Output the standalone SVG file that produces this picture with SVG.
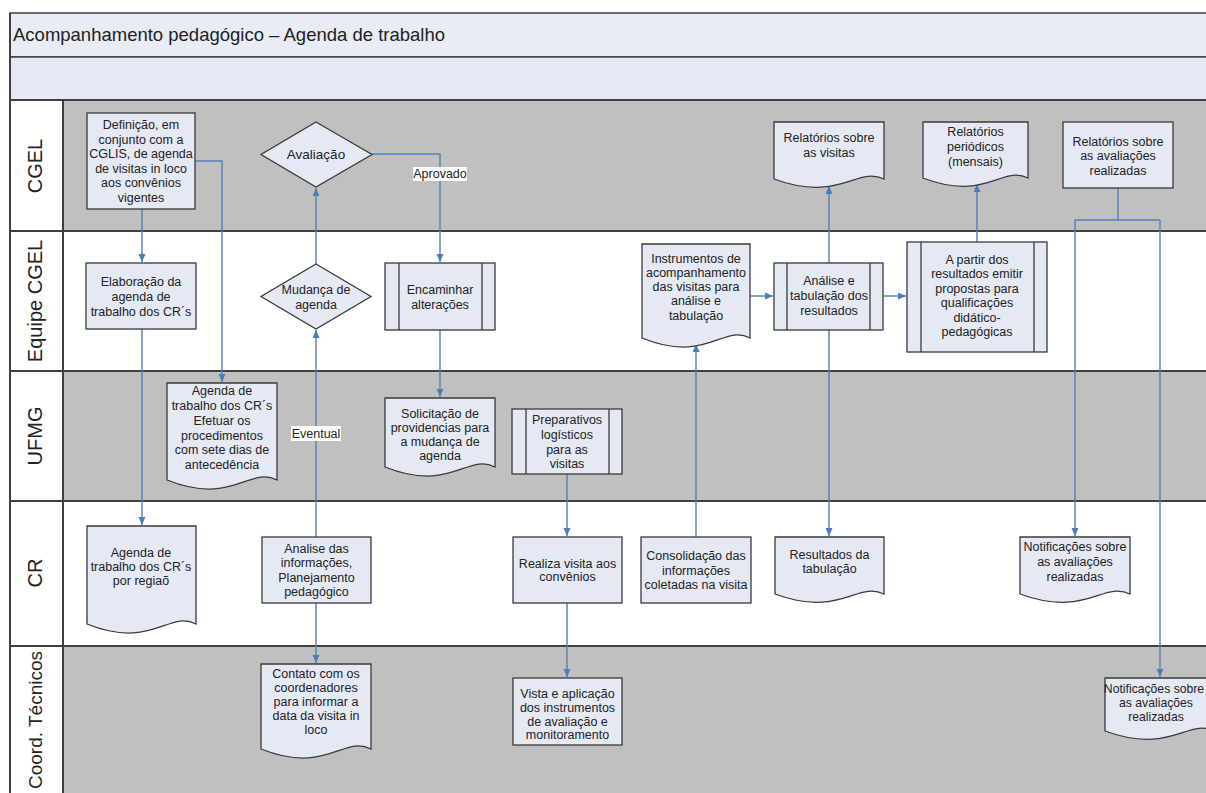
<svg xmlns="http://www.w3.org/2000/svg" width="1206" height="793" viewBox="0 0 1206 793">
  <defs>
    <marker id="arrow" markerUnits="userSpaceOnUse" markerWidth="9" markerHeight="8" refX="8" refY="3.5" orient="auto">
      <path d="M0,0 L8,3.5 L0,7 z" fill="#4a7ebb"/>
    </marker>
    <style>
      .band { stroke: #404040; stroke-width: 1.5; }
      .lane-grey { fill: #c0c0c0; }
      .lane-white { fill: #ffffff; }
      .sep { stroke: #404040; stroke-width: 2; fill: none; }
      .lane-label { font-family: "Liberation Sans", Arial, sans-serif; font-size: 20px; fill: #222; text-anchor: middle; }
      .title { font-family: "Liberation Sans", Arial, sans-serif; font-size: 18.5px; fill: #222; }
      .shape { fill: #e4e9f4; stroke: #3a3a3a; stroke-width: 1.3; }
      .inner { stroke: #3a3a3a; stroke-width: 1.3; fill: none; }
      .t { font-family: "Liberation Sans", Arial, sans-serif; font-size: 12.5px; fill: #222; text-anchor: middle; }
      .edge { stroke: #4f81bd; stroke-width: 1.4; fill: none; }
      .edge-label { fill: #ffffff; }
    </style>
  </defs>

  <!-- header bands -->
  <rect x="10" y="13" width="1210" height="44" fill="#e8ecf5" class="band"/>
  <rect x="10" y="57" width="1210" height="43" fill="#e4e9f3" class="band"/>
  <text class="title" x="13" y="41">Acompanhamento pedagógico – Agenda de trabalho</text>

  <!-- swimlanes -->
  <g id="lanes">
    <rect class="lane-grey" x="63" y="100" width="1150" height="131"/>
    <rect class="lane-white" x="63" y="231" width="1150" height="140"/>
    <rect class="lane-grey" x="63" y="371" width="1150" height="130"/>
    <rect class="lane-white" x="63" y="501" width="1150" height="145"/>
    <rect class="lane-grey" x="63" y="646" width="1150" height="150"/>
    <rect x="10" y="100" width="53" height="696" fill="#ffffff"/>
    <path class="sep" d="M10,100 H1210 M10,231 H1210 M10,371 H1210 M10,501 H1210 M10,646 H1210"/>
    <path class="sep" d="M10,13 V796 M63,100 V796"/>
    <text class="lane-label" transform="translate(42,166) rotate(-90)">CGEL</text>
    <text class="lane-label" transform="translate(42,301) rotate(-90)">Equipe CGEL</text>
    <text class="lane-label" transform="translate(42,436) rotate(-90)">UFMG</text>
    <text class="lane-label" transform="translate(42,573) rotate(-90)">CR</text>
    <text class="lane-label" transform="translate(42,720) rotate(-90)" style="font-size:19px">Coord. Técnicos</text>
  </g>

  <!-- connectors -->
  <g id="connectors">
    <path class="edge" d="M142,209 V262" marker-end="url(#arrow)"/>
    <path class="edge" d="M195,161 H222 V382" marker-end="url(#arrow)"/>
    <path class="edge" d="M142,329 V525" marker-end="url(#arrow)"/>
    <path class="edge" d="M316,537 V330" marker-end="url(#arrow)"/>
    <path class="edge" d="M316,264 V188" marker-end="url(#arrow)"/>
    <path class="edge" d="M372,154 H440 V262" marker-end="url(#arrow)"/>
    <path class="edge" d="M440,330 V397" marker-end="url(#arrow)"/>
    <path class="edge" d="M316,603 V663" marker-end="url(#arrow)"/>
    <path class="edge" d="M567,474 V536" marker-end="url(#arrow)"/>
    <path class="edge" d="M567,603 V677" marker-end="url(#arrow)"/>
    <path class="edge" d="M696,537 V344" marker-end="url(#arrow)"/>
    <path class="edge" d="M750,296 H773" marker-end="url(#arrow)"/>
    <path class="edge" d="M829,263 V186" marker-end="url(#arrow)"/>
    <path class="edge" d="M829,330 V536" marker-end="url(#arrow)"/>
    <path class="edge" d="M883,296 H906" marker-end="url(#arrow)"/>
    <path class="edge" d="M977,242 V184" marker-end="url(#arrow)"/>
    <path class="edge" d="M1118,188 V220 M1075,220 H1160"/>
    <path class="edge" d="M1075,220 V536" marker-end="url(#arrow)"/>
    <path class="edge" d="M1160,220 V677" marker-end="url(#arrow)"/>
    <rect class="edge-label" x="413" y="167" width="54" height="14"/>
    <text class="t" x="440" y="178">Aprovado</text>
    <rect class="edge-label" x="291" y="426" width="50" height="15"/>
    <text class="t" x="316" y="438">Eventual</text>
  </g>

  <!-- CGEL -->
  <g id="definicao">
    <rect class="shape" x="87" y="113" width="108" height="96"/>
    <text class="t"><tspan x="141" y="129">Definição, em</tspan><tspan x="141" y="143.6">conjunto com a</tspan><tspan x="141" y="158.2">CGLIS, de agenda</tspan><tspan x="141" y="172.8">de visitas in loco</tspan><tspan x="141" y="187.4">aos convênios</tspan><tspan x="141" y="202">vigentes</tspan></text>
  </g>
  <g id="avaliacao">
    <polygon class="shape" points="316,122 372,154.5 316,187 261,154.5"/>
    <text class="t" x="316" y="159" style="font-size:13.5px">Avaliação</text>
  </g>
  <g id="relatorios-visitas">
    <path class="shape" d="M774,122 H884 V179 C856.5,165.8 840,203.2 774,179 Z"/>
    <text class="t"><tspan x="829" y="141.5">Relatórios sobre</tspan><tspan x="829" y="156.5">as visitas</tspan></text>
  </g>
  <g id="relatorios-periodicos">
    <path class="shape" d="M923,122 H1028 V178 C1001.8,164.8 986,202.2 923,178 Z"/>
    <text class="t"><tspan x="975.5" y="135.5">Relatórios</tspan><tspan x="975.5" y="150.5">periódicos</tspan><tspan x="975.5" y="165.5">(mensais)</tspan></text>
  </g>
  <g id="relatorios-avaliacoes">
    <rect class="shape" x="1063" y="122" width="110" height="66"/>
    <text class="t"><tspan x="1118" y="145.5">Relatórios sobre</tspan><tspan x="1118" y="160">as avaliações</tspan><tspan x="1118" y="174.5">realizadas</tspan></text>
  </g>

  <!-- Equipe CGEL -->
  <g id="elaboracao">
    <rect class="shape" x="86" y="263" width="110" height="66"/>
    <text class="t"><tspan x="141" y="286">Elaboração da</tspan><tspan x="141" y="301">agenda de</tspan><tspan x="141" y="316">trabalho dos CR´s</tspan></text>
  </g>
  <g id="mudanca">
    <polygon class="shape" points="316,264 371,296.5 316,329 261,296.5"/>
    <text class="t"><tspan x="316" y="293.8">Mudança de</tspan><tspan x="316" y="308.5">agenda</tspan></text>
  </g>
  <g id="encaminhar">
    <rect class="shape" x="385" y="263" width="110" height="67"/>
    <path class="inner" d="M399,263 V330 M482,263 V330"/>
    <text class="t"><tspan x="440" y="293.8">Encaminhar</tspan><tspan x="440" y="308.5">alterações</tspan></text>
  </g>
  <g id="instrumentos">
    <path class="shape" d="M642,244 H750 V338 C723,323.6 706.8,364.4 642,338 Z"/>
    <text class="t"><tspan x="696" y="262.8">Instrumentos de</tspan><tspan x="696" y="277">acompanhamento</tspan><tspan x="696" y="291.2">das visitas para</tspan><tspan x="696" y="305.4">análise e</tspan><tspan x="696" y="319.5">tabulação</tspan></text>
  </g>
  <g id="analise">
    <rect class="shape" x="774" y="263" width="109" height="67"/>
    <path class="inner" d="M787,263 V330 M870,263 V330"/>
    <text class="t"><tspan x="829" y="285.2">Análise e</tspan><tspan x="829" y="300">tabulação dos</tspan><tspan x="829" y="314.5">resultados</tspan></text>
  </g>
  <g id="propostas">
    <rect class="shape" x="907" y="242" width="140" height="110"/>
    <path class="inner" d="M921,242 V352 M1034,242 V352"/>
    <text class="t"><tspan x="977" y="263.8">A partir dos</tspan><tspan x="977" y="278.3">resultados emitir</tspan><tspan x="977" y="292.8">propostas para</tspan><tspan x="977" y="307.3">qualificações</tspan><tspan x="977" y="321.8">didático-</tspan><tspan x="977" y="336.3">pedagógicas</tspan></text>
  </g>

  <!-- UFMG -->
  <g id="agenda-ufmg">
    <path class="shape" d="M167,383 H277 V480 C249.5,465.6 233,506.4 167,480 Z"/>
    <text class="t"><tspan x="222" y="395.2">Agenda de</tspan><tspan x="222" y="410">trabalho dos CR´s</tspan><tspan x="222" y="424.8">Efetuar os</tspan><tspan x="222" y="439.5">procedimentos</tspan><tspan x="222" y="454.3">com sete dias de</tspan><tspan x="222" y="469.1">antecedência</tspan></text>
  </g>
  <g id="solicitacao">
    <path class="shape" d="M385,398 H495 V467 C467.5,452.6 451,493.4 385,467 Z"/>
    <text class="t"><tspan x="440" y="417.5">Solicitação de</tspan><tspan x="440" y="431.5">providencias para</tspan><tspan x="440" y="445.5">a mudança de</tspan><tspan x="440" y="459.5">agenda</tspan></text>
  </g>
  <g id="preparativos">
    <rect class="shape" x="512" y="409" width="110" height="65"/>
    <path class="inner" d="M526,409 V474 M609,409 V474"/>
    <text class="t"><tspan x="567" y="423.8">Preparativos</tspan><tspan x="567" y="438.5">logísticos</tspan><tspan x="567" y="453.5">para as</tspan><tspan x="567" y="467.8">visitas</tspan></text>
  </g>

  <!-- CR -->
  <g id="agenda-cr">
    <path class="shape" d="M87,526 H196 V624 C168.8,609.6 152.4,650.4 87,624 Z"/>
    <text class="t"><tspan x="141" y="556.5">Agenda de</tspan><tspan x="141" y="570.5">trabalho dos CR´s</tspan><tspan x="141" y="584.5">por regiaõ</tspan></text>
  </g>
  <g id="analise-informacoes">
    <rect class="shape" x="262" y="537" width="109" height="66"/>
    <text class="t"><tspan x="316.5" y="552.8">Analise das</tspan><tspan x="316.5" y="567.3">informações,</tspan><tspan x="316.5" y="581.8">Planejamento</tspan><tspan x="316.5" y="596.3">pedagógico</tspan></text>
  </g>
  <g id="realiza-visita">
    <rect class="shape" x="513" y="537" width="109" height="66"/>
    <text class="t"><tspan x="567.5" y="567.8">Realiza visita aos</tspan><tspan x="567.5" y="581.2">convênios</tspan></text>
  </g>
  <g id="consolidacao">
    <rect class="shape" x="641" y="537" width="110" height="66"/>
    <text class="t"><tspan x="696" y="560">Consolidação das</tspan><tspan x="696" y="574.5">informações</tspan><tspan x="696" y="589">coletadas na visita</tspan></text>
  </g>
  <g id="resultados">
    <path class="shape" d="M775,537 H884 V594 C856.8,580.8 840.4,618.2 775,594 Z"/>
    <text class="t"><tspan x="829.5" y="558.5">Resultados da</tspan><tspan x="829.5" y="572.8">tabulação</tspan></text>
  </g>
  <g id="notificacoes-cr">
    <path class="shape" d="M1020,537 H1130 V594 C1102.5,580.8 1086,618.2 1020,594 Z"/>
    <text class="t"><tspan x="1075" y="551.2">Notificações sobre</tspan><tspan x="1075" y="566">as avaliações</tspan><tspan x="1075" y="580.5">realizadas</tspan></text>
  </g>

  <!-- Coord. Técnicos -->
  <g id="contato">
    <path class="shape" d="M261,664 H371 V749 C343.5,734.6 327,775.4 261,749 Z"/>
    <text class="t"><tspan x="316" y="677.5">Contato com os</tspan><tspan x="316" y="691.5">coordenadores</tspan><tspan x="316" y="705.5">para informar a</tspan><tspan x="316" y="719.5">data da visita in</tspan><tspan x="316" y="733.5">loco</tspan></text>
  </g>
  <g id="vista-aplicacao">
    <rect class="shape" x="513" y="678" width="109" height="67"/>
    <text class="t"><tspan x="567.5" y="698">Vista e aplicação</tspan><tspan x="567.5" y="712">dos instrumentos</tspan><tspan x="567.5" y="725.5">de avaliação e</tspan><tspan x="567.5" y="739">monitoramento</tspan></text>
  </g>
  <g id="notificacoes-coord">
    <path class="shape" d="M1105,678 H1215 V731 C1187.5,717.8 1171,755.2 1105,731 Z"/>
    <text class="t" style="font-size:12.2px"><tspan x="1154" y="692.8">Notificações sobre</tspan><tspan x="1156" y="707.2">as avaliações</tspan><tspan x="1156" y="721.2">realizadas</tspan></text>
  </g>
</svg>
